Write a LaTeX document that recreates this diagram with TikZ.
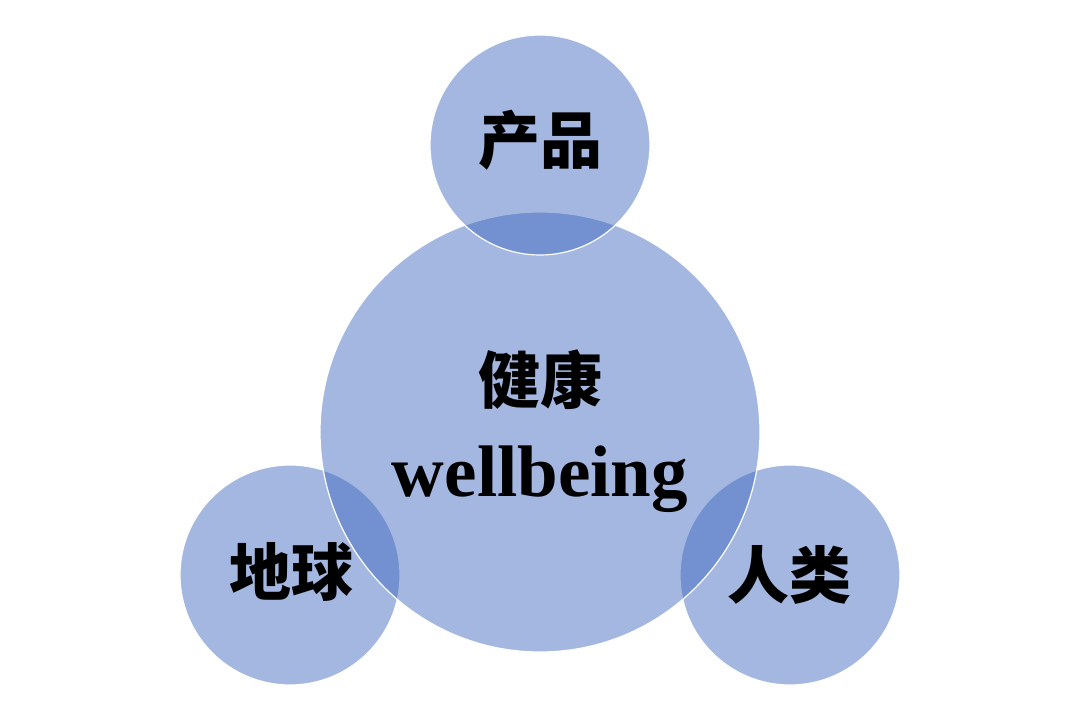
\documentclass[tikz,border=0pt]{standalone}
\usepackage{fontspec}
\setmainfont{Liberation Serif}
\newfontfamily\cjk{Noto Sans CJK SC}
\begin{document}
\begin{tikzpicture}[x=1pt,y=-1pt,
  ball/.style={circle,fill={rgb,255:red,63;green,105;blue,192},fill opacity=0.48,draw=white,draw opacity=1,line width=1.2pt,inner sep=0pt},
  cjklabel/.style={font=\cjk\bfseries\fontsize{62}{62}\selectfont,text=black,inner sep=0pt}]
\useasboundingbox (0,0) rectangle (1080,720);
\fill[white] (0,0) rectangle (1080,720);
\node[ball,minimum size=220pt] (left) at (290,575) {};
\node[ball,minimum size=220pt] (right) at (790,575) {};
\node[ball,minimum size=440pt] (main) at (540,432) {};
\node[ball,minimum size=220pt] (top) at (540,145) {};
\node[cjklabel] (tl) at (540,140) {产品};
\node[cjklabel] (ml) at (540,380) {健康};
\node[font=\bfseries\fontsize{73}{73}\selectfont,anchor=base,inner sep=0pt] (wl) at (540,496) {wellbeing};
\node[cjklabel] (ll) at (291,572) {地球};
\node[cjklabel] (rl) at (789,575) {人类};
\end{tikzpicture}
\end{document}
